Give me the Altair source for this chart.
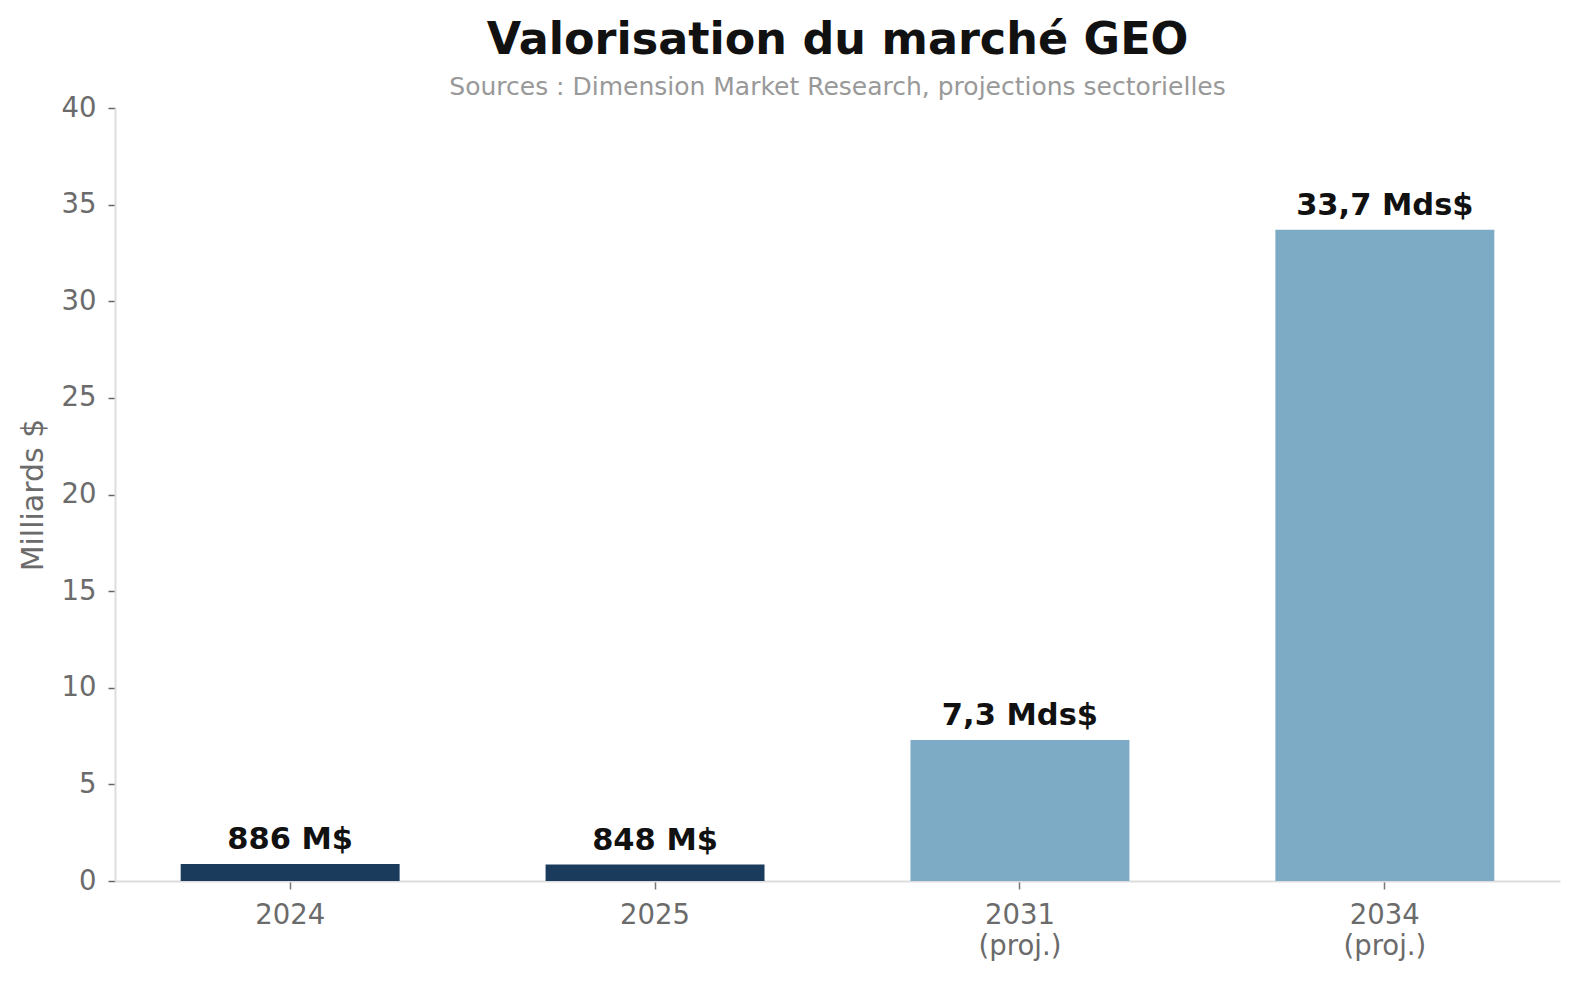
import altair as alt
import pandas as pd

years = ["2024", "2025", "2031", "2034"]
axis_labels = ["2024", "2025", "2031 (proj.)", "2034 (proj.)"]
values = [0.886, 0.848, 7.3, 33.7]
value_labels = ["886 M$", "848 M$", "7,3 Mds$", "33,7 Mds$"]
kinds = ["Historique", "Historique", "Projection", "Projection"]
y_ticks = [0, 5, 10, 15, 20, 25, 30, 35, 40]

df = pd.DataFrame({
    "annee": axis_labels,
    "valeur": values,
    "etiquette": value_labels,
    "type": kinds,
})

FONT = "DejaVu Sans"

x_enc = alt.X(
    "annee:N",
    sort=axis_labels,
    scale=alt.Scale(paddingInner=0.4, paddingOuter=0.18),
    axis=alt.Axis(
        title=None,
        labelAngle=0,
        labelExpr="split(datum.label, ' ')",
        labelFontSize=27.5,
        labelColor="#6b6b6b",
        labelFont=FONT,
        labelPadding=12,
        labelLineHeight=31,
        tickColor="#777777",
        tickSize=8,
        tickWidth=1.5,
        domainColor="#dddddd",
        domainWidth=2,
        grid=False,
    ),
)

y_enc = alt.Y(
    "valeur:Q",
    scale=alt.Scale(domain=[0, 40], nice=False),
    axis=alt.Axis(
        title="Milliards $",
        values=y_ticks,
        labelFontSize=27.5,
        labelColor="#6b6b6b",
        labelFont=FONT,
        labelPadding=12,
        tickColor="#666666",
        tickSize=7,
        tickWidth=1.5,
        domainColor="#dddddd",
        domainWidth=2,
        grid=False,
        titleFont=FONT,
        titleFontSize=30,
        titleFontWeight="normal",
        titleColor="#6b6b6b",
        titlePadding=13,
    ),
)

bars = alt.Chart(df).mark_bar().encode(
    x=x_enc,
    y=y_enc,
    color=alt.Color(
        "type:N",
        scale=alt.Scale(domain=["Historique", "Projection"], range=["#1b3b5c", "#7daac4"]),
        legend=None,
    ),
)

labels = alt.Chart(df).mark_text(
    dy=-15,
    baseline="alphabetic",
    fontSize=30.5,
    fontWeight="bold",
    font=FONT,
    color="#111111",
).encode(
    x=alt.X("annee:N", sort=axis_labels),
    y=alt.Y("valeur:Q"),
    text="etiquette:N",
)

chart = (
    alt.layer(bars, labels)
    .properties(
        width=1445,
        height=773,
        background="white",
        autosize=alt.AutoSizeParams(type="none"),
        padding={"left": 115, "top": 108, "right": 19, "bottom": 100},
        title=alt.TitleParams(
            text="Valorisation du marché GEO",
            subtitle="Sources : Dimension Market Research, projections sectorielles",
            font=FONT,
            fontSize=44.5,
            fontWeight="bold",
            color="#111111",
            subtitleFont=FONT,
            subtitleFontSize=25,
            subtitleColor="#999999",
            subtitlePadding=12,
            anchor="middle",
            frame="group",
            offset=-7,
        ),
    )
    .configure_view(strokeWidth=0, stroke="transparent")
)

chart.save("out.html", embed_options={"renderer": "svg", "actions": False})
